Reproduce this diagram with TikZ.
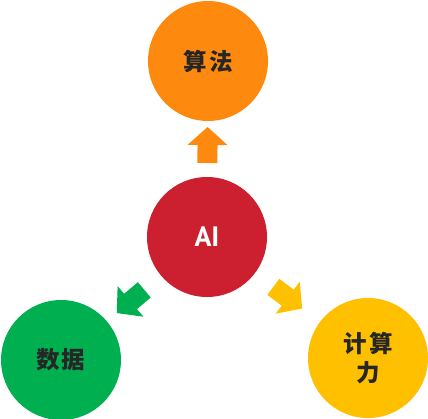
\documentclass[tikz,border=0pt]{standalone}
\usepackage{fontspec}
\usetikzlibrary{calc}
\newfontfamily\cjk{Noto Sans CJK SC}
\newfontfamily\aiFont{PT Sans}
\definecolor{algoColor}{RGB}{253,138,14}
\definecolor{aiColor}{RGB}{204,31,47}
\definecolor{dataColor}{RGB}{0,176,80}
\definecolor{computeColor}{RGB}{255,192,0}
\tikzstyle{canvas} = [x = 1pt, y = -1pt]
\tikzstyle{bubble} = [circle, minimum size = 120pt, inner sep = 0pt]
\tikzstyle{bubbleText} = [font=\cjk\bfseries\fontsize{23.5}{29}\selectfont, text=black!85, align=center]
\tikzstyle{aiText} = [font=\aiFont\bfseries\fontsize{28}{28}\selectfont, text=white]
\tikzset{arrowShape/.pic = {
  \fill [pic actions] (18,0) -- (0,20) -- (0,10) -- (-18,10) -- (-18,-10) -- (0,-10) -- (0,-20) -- cycle;
}}
% block arrow from #1 towards #2, centred #3 away from #1
\newcommand{\blockArrow}[4]{\path let \p1 = ($(#2) - (#1)$), \n1 = {atan2(\y1,\x1)} in pic [rotate = \n1, fill = #4] at ($(#1)!#3!(#2)$) {arrowShape};}

\begin{document}
\begin{tikzpicture}[canvas]
  \useasboundingbox (0,0) rectangle (428,418);

  \node [bubble, fill=aiColor, aiText] (ai) at (207,237) {AI};
  \node [bubble, fill=algoColor, bubbleText] (algo) at (208,61) {算\hspace{2pt}法};
  \node [bubble, fill=dataColor, bubbleText] (data) at (61,360) {数\hspace{2pt}据};
  \node [bubble, fill=computeColor, bubbleText] (compute) at (368,358) {计\hspace{2pt}算\\力};

  \blockArrow{ai}{algo}{92pt}{algoColor}
  \blockArrow{ai}{data}{100pt}{dataColor}
  \blockArrow{ai}{compute}{101pt}{computeColor}
\end{tikzpicture}
\end{document}
